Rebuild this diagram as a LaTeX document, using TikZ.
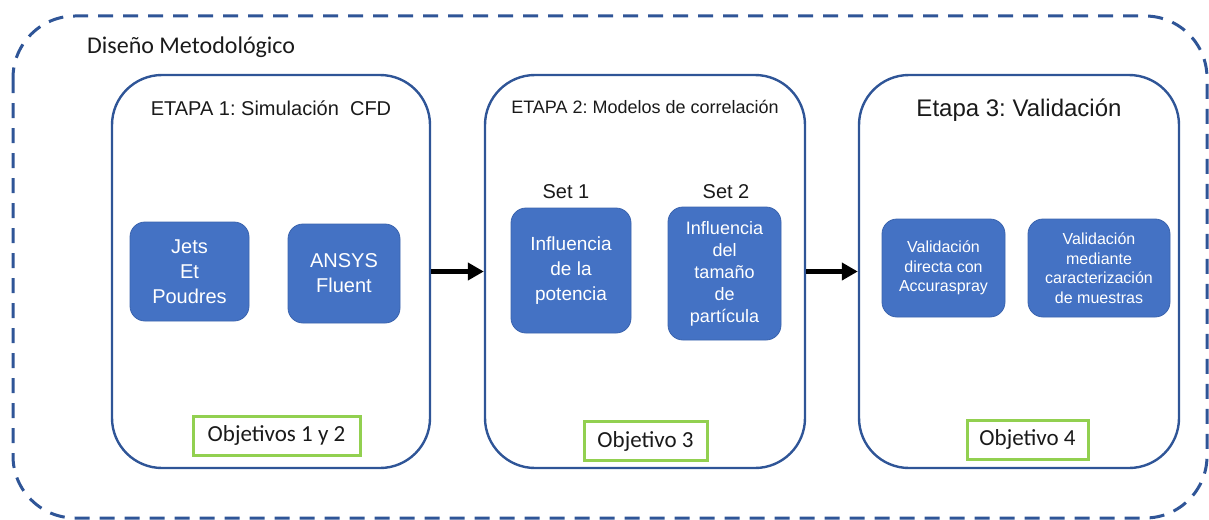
\documentclass[tikz,border=0pt]{standalone}
\usepackage{fontspec}
\setmainfont{Liberation Sans}
\newfontfamily\calib{Carlito}
\usetikzlibrary{arrows.meta}
\frenchspacing
\definecolor{frameblue}{HTML}{2F5597}
\definecolor{boxblue}{HTML}{4472C4}
\definecolor{boxedge}{HTML}{3B64AE}
\definecolor{objgreen}{HTML}{92D050}
\definecolor{ink}{HTML}{1A1A1A}
\tikzset{
  outerframe/.style={draw=frameblue, line width=3pt, dash pattern=on 15pt off 10pt, rounded corners=62pt},
  stage/.style={draw=frameblue, line width=2.4pt, rounded corners=50pt, minimum height=393pt},
  stagetitle/.style={text=ink, inner sep=0pt},
  task/.style={fill=boxblue, draw=boxedge, line width=0.8pt, rounded corners=15pt,
    text=white, align=center, inner sep=0pt},
  goal/.style={draw=objgreen, line width=3pt, fill=white, text=ink, inner sep=0pt,
    minimum height=39pt, font=\calib\fontsize{23}{27}\selectfont},
  flow/.style={-{Triangle[length=16pt,width=17pt]}, line width=5pt, black}
}
\begin{document}
\begin{tikzpicture}[x=1pt, y=-1pt]
  \useasboundingbox (0,0) rectangle (1209,519);

  % outer dashed frame
  \draw[outerframe] (13,16) rectangle (1207,518);
  \node[anchor=base west, text=ink, inner sep=0pt, font=\calib\fontsize{24}{28}\selectfont]
    (dm) at (87,53) {Diseño Metodológico};

  % the three stages
  \node[stage, minimum width=318pt] (st1) at (271,271.5) {};
  \node[stage, minimum width=320pt] (st2) at (645,271.5) {};
  \node[stage, minimum width=320pt] (st3) at (1019,271.5) {};

  \node[stagetitle, font=\fontsize{20}{24}\selectfont] (t1) at (271,108) {ETAPA 1: Simulación\ \ CFD};
  \node[stagetitle, font=\fontsize{18}{22}\selectfont] (t2) at (645,107) {ETAPA 2: Modelos de correlación};
  \node[stagetitle, font=\fontsize{24}{28}\selectfont] (t3) at (1019,110) {Etapa 3: Validación};

  % stage 1 tools
  \node[task, minimum width=119pt, minimum height=99pt, font=\fontsize{20}{25}\selectfont]
    (jets) at (189.5,271.5) {Jets\\Et\\Poudres};
  \node[task, minimum width=112pt, minimum height=99pt, font=\fontsize{20}{25}\selectfont]
    (ansys) at (344,273.5) {ANSYS\\Fluent};

  % stage 2 sets
  \node[text=ink, inner sep=0pt, font=\fontsize{20}{24}\selectfont] (set1) at (566,192) {Set 1};
  \node[text=ink, inner sep=0pt, font=\fontsize{20}{24}\selectfont] (set2) at (726,192) {Set 2};
  \node[task, minimum width=120pt, minimum height=125pt, font=\fontsize{19}{25}\selectfont]
    (pow) at (571,270.5) {Influencia\\de la\\potencia};
  \node[task, minimum width=113pt, minimum height=133pt, font=\fontsize{18}{22}\selectfont]
    (size) at (724.5,273.5) {Influencia\\del\\tamaño\\de\\partícula};

  % stage 3 validation
  \node[task, minimum width=123pt, minimum height=98pt, font=\fontsize{16}{19.5}\selectfont]
    (val1) at (943.5,268) {Validación\\directa con\\Accuraspray};
  \node[task, minimum width=142pt, minimum height=98pt, font=\fontsize{16}{19.5}\selectfont]
    (val2) at (1099,268) {Validación\\mediante\\caracterización\\de muestras};

  % objectives
  \node[goal, minimum width=167pt] (o1) at (276.5,435.5) {Objetivos 1 y 2};
  \node[goal, minimum width=123pt] (o3) at (645.5,441.3) {Objetivo 3};
  \node[goal, minimum width=121pt] (o4) at (1027.5,439.5) {Objetivo 4};

  % flow between stages
  \draw[flow] (st1.east) -- (st2.west);
  \draw[flow] (st2.east) -- (st3.west);
\end{tikzpicture}
\end{document}
